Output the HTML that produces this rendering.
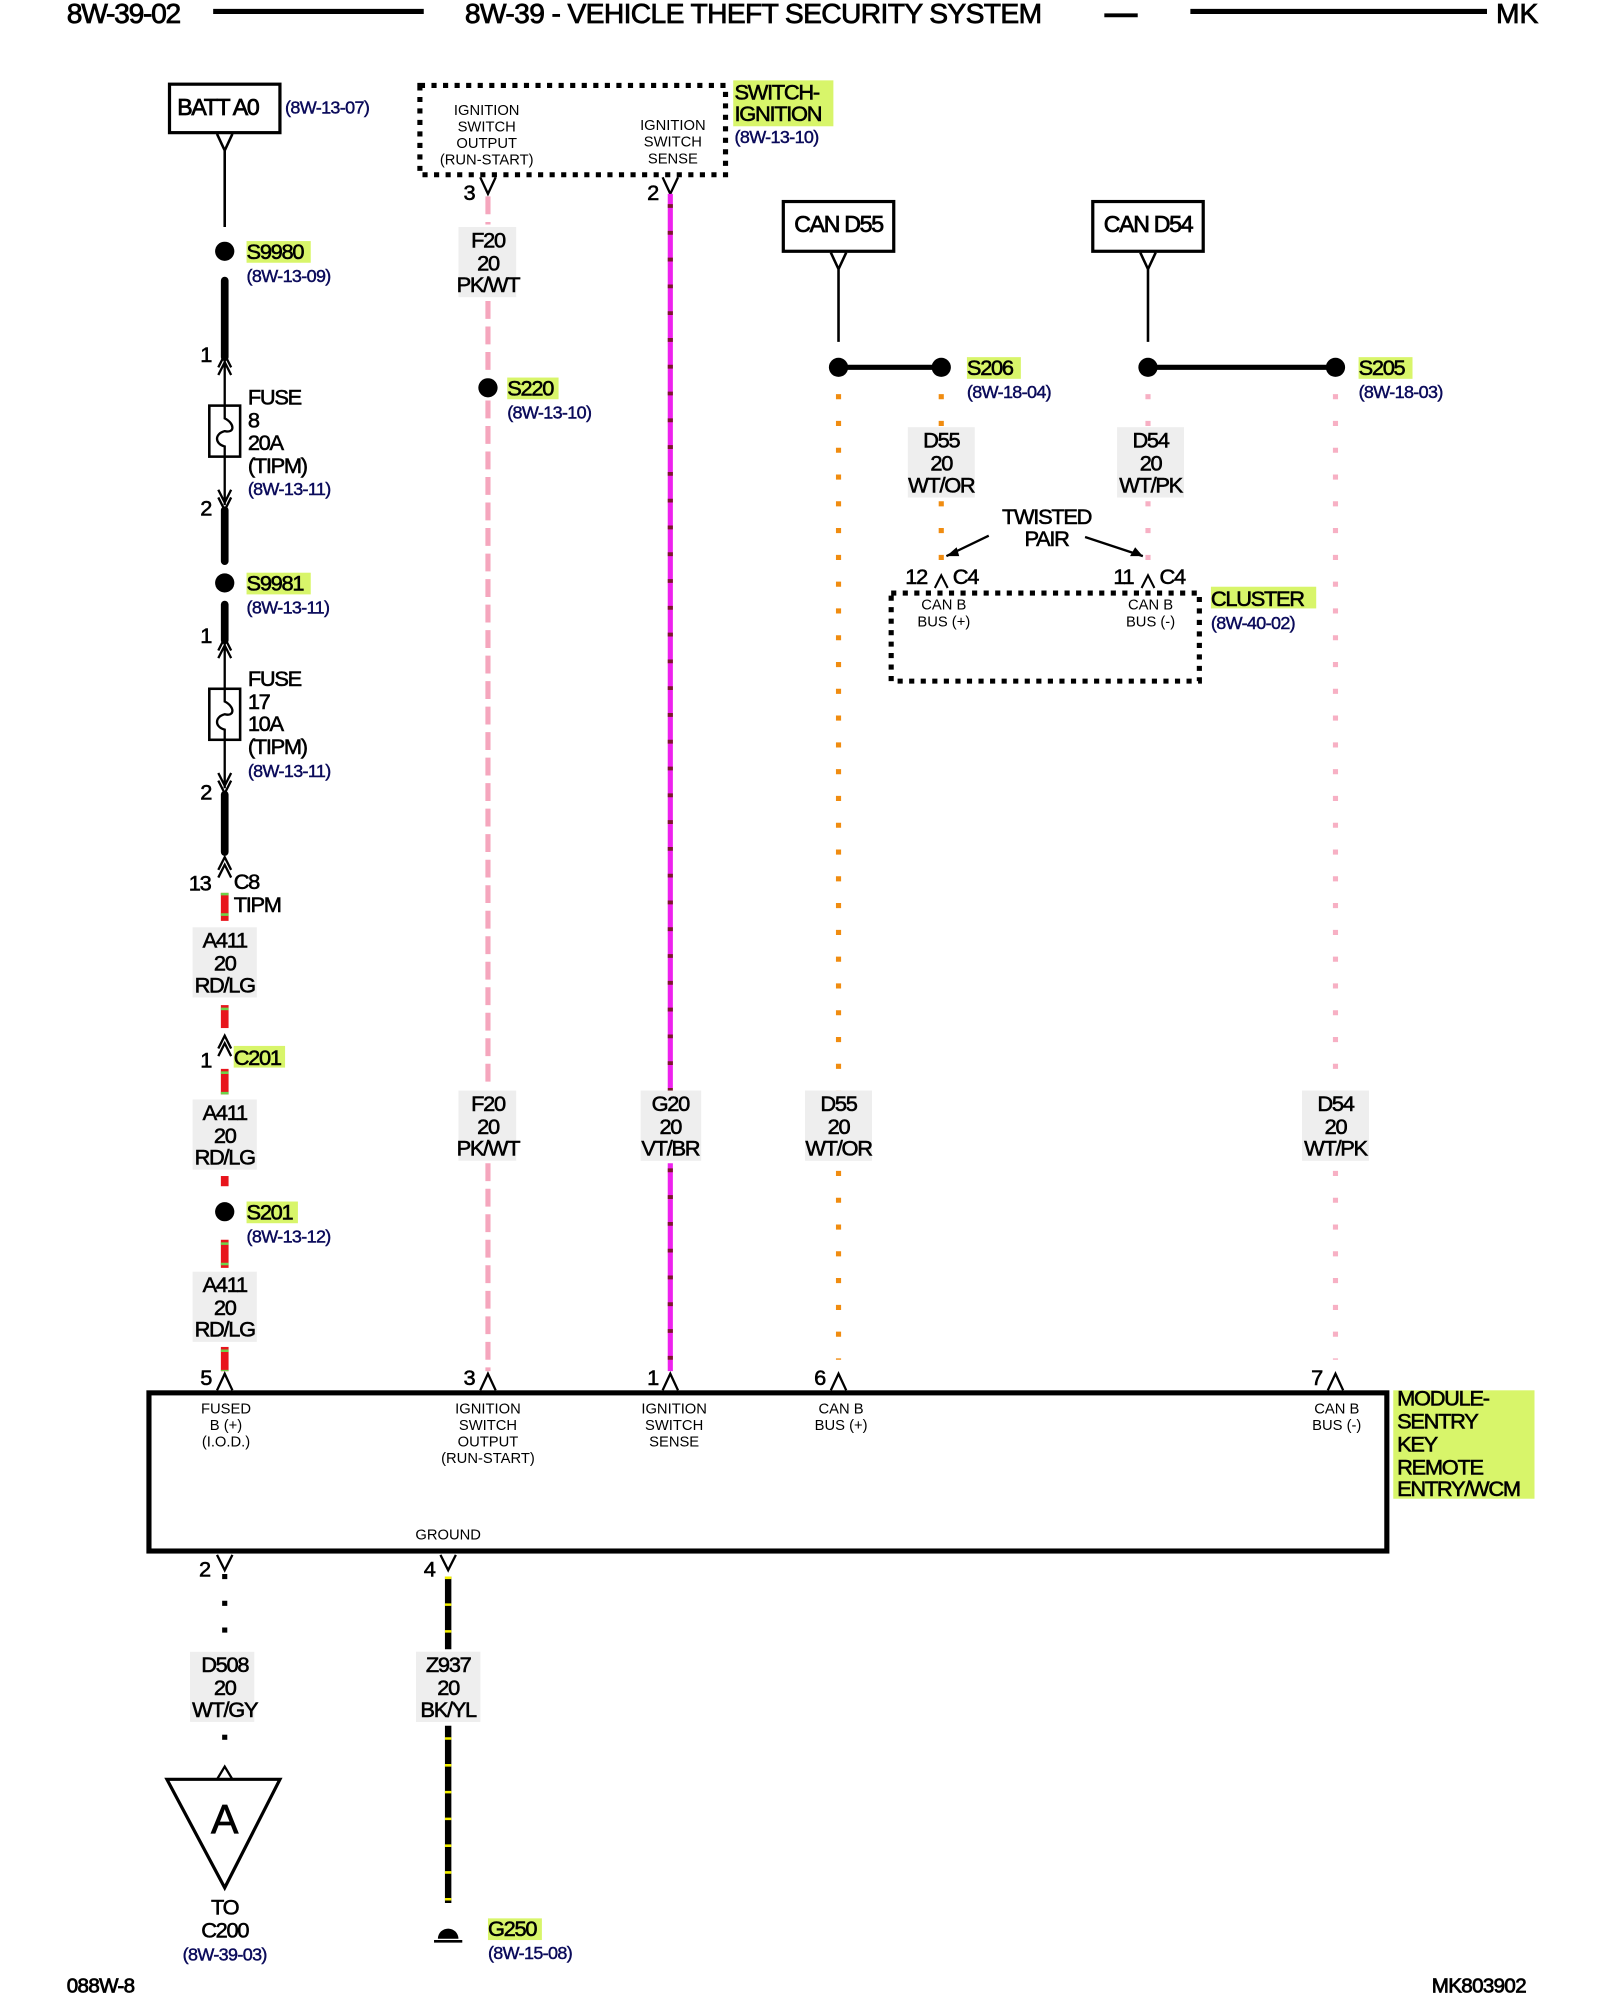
<!DOCTYPE html>
<html><head><meta charset="utf-8"><style>
html,body{margin:0;padding:0;background:#fff;width:1600px;height:2000px;overflow:hidden}
svg{display:block}
text{font-family:"Liberation Sans",Arial,sans-serif;fill:#000}
.l{font-size:17px;letter-spacing:-1px;stroke:#000;stroke-width:0.45}
.r{font-size:14px;fill:#0a0a5a;letter-spacing:-0.5px;stroke:#0a0a5a;stroke-width:0.35}
.s{font-size:11.5px;letter-spacing:0px}
.c{text-anchor:middle}
.h{stroke:#000;stroke-width:0.6}
</style></head><body>
<svg width="1600" height="2000" viewBox="0 0 1246 1568" preserveAspectRatio="none" xmlns="http://www.w3.org/2000/svg">
<rect width="1246" height="1568" fill="#fff"/>
<!-- header -->
<text x="52" y="18" class="h" style="font-size:22px;letter-spacing:-1px">8W-39-02</text>
<line x1="166" y1="9" x2="330" y2="9" stroke="#000" stroke-width="4"/>
<text x="362" y="18" class="h" style="font-size:22px;letter-spacing:-0.5px">8W-39 - VEHICLE THEFT SECURITY SYSTEM</text>
<line x1="860" y1="12" x2="886" y2="12" stroke="#000" stroke-width="3"/>
<line x1="927" y1="9" x2="1158" y2="9" stroke="#000" stroke-width="4"/>
<text x="1165" y="18" class="h" style="font-size:22px">MK</text>

<!-- highlight backgrounds -->
<g fill="#d8f56a">
<rect x="192" y="189" width="50" height="17"/>
<rect x="192" y="449" width="50" height="17"/>
<rect x="182" y="820" width="40" height="17"/>
<rect x="192" y="942" width="40" height="17"/>
<rect x="395" y="296" width="40" height="17"/>
<rect x="571" y="63" width="78" height="36"/>
<rect x="753" y="280" width="42" height="17"/>
<rect x="1058" y="280" width="42" height="17"/>
<rect x="943" y="460" width="82" height="17"/>
<rect x="1085" y="1090" width="110" height="85"/>
<rect x="380" y="1504" width="42" height="17"/>
</g>
<!-- wire label backgrounds -->
<g fill="#eeeeee">
<rect x="150" y="727" width="50" height="55"/><rect x="150" y="862" width="50" height="55"/><rect x="150" y="997" width="50" height="55"/>
<rect x="357" y="178" width="45" height="55"/><rect x="357" y="855" width="45" height="55"/>
<rect x="499" y="855" width="47" height="55"/><rect x="627" y="855" width="52" height="55"/>
<rect x="707" y="335" width="52" height="55"/><rect x="870" y="335" width="52" height="55"/>
<rect x="1014" y="855" width="52" height="55"/>
<rect x="148" y="1295" width="50" height="55"/><rect x="324" y="1295" width="50" height="55"/>
</g>

<!-- column 1 -->
<rect x="132" y="66" width="86" height="38" fill="none" stroke="#000" stroke-width="2.5"/>
<text x="138" y="90" class="h" style="font-size:18px;letter-spacing:-1px">BATT A0</text>
<text x="222" y="89" class="r">(8W-13-07)</text>
<path d="M169 105 L175 118 L181 105 M175 118 V178" fill="none" stroke="#000" stroke-width="2"/>
<circle cx="175" cy="197" r="7.5"/>
<text x="192" y="203" class="l">S9980</text><text x="192" y="221" class="r">(8W-13-09)</text>
<line x1="175" y1="220" x2="175" y2="280" stroke="#000" stroke-width="6" stroke-linecap="round"/>
<text x="156" y="284" class="l">1</text>
<path d="M170 288 L175 278 L180 288 M170 294 L175 284 L180 294 M175 282 V396 M170 384 L175 394 L180 384 M170 390 L175 400 L180 390" fill="none" stroke="#000" stroke-width="1.8"/>
<rect x="163" y="318" width="24" height="40" fill="#fff" stroke="#000" stroke-width="2"/>
<path d="M175 318 V328 C183 332 183 340 175 338 C167 340 167 348 175 350 V358" fill="none" stroke="#000" stroke-width="1.8"/>
<text x="193" y="317" class="l">FUSE</text><text x="193" y="335" class="l">8</text><text x="193" y="353" class="l">20A</text><text x="193" y="371" class="l">(TIPM)</text><text x="193" y="388" class="r">(8W-13-11)</text>
<text x="156" y="404" class="l">2</text>
<line x1="175" y1="400" x2="175" y2="440" stroke="#000" stroke-width="6" stroke-linecap="round"/>
<circle cx="175" cy="457" r="7.5"/>
<text x="192" y="463" class="l">S9981</text><text x="192" y="481" class="r">(8W-13-11)</text>
<line x1="175" y1="474" x2="175" y2="502" stroke="#000" stroke-width="6" stroke-linecap="round"/>
<text x="156" y="504" class="l">1</text>
<path d="M170 510 L175 500 L180 510 M170 516 L175 506 L180 516 M175 504 V618 M170 606 L175 616 L180 606 M170 612 L175 622 L180 612" fill="none" stroke="#000" stroke-width="1.8"/>
<rect x="163" y="540" width="24" height="40" fill="#fff" stroke="#000" stroke-width="2"/>
<path d="M175 540 V550 C183 554 183 562 175 560 C167 562 167 570 175 572 V580" fill="none" stroke="#000" stroke-width="1.8"/>
<text x="193" y="538" class="l">FUSE</text><text x="193" y="556" class="l">17</text><text x="193" y="573" class="l">10A</text><text x="193" y="591" class="l">(TIPM)</text><text x="193" y="609" class="r">(8W-13-11)</text>
<text x="156" y="627" class="l">2</text>
<line x1="175" y1="623" x2="175" y2="668" stroke="#000" stroke-width="6" stroke-linecap="round"/>
<path d="M170 682 L175 672 L180 682 M170 688 L175 678 L180 688" fill="none" stroke="#000" stroke-width="1.8"/>
<text x="147" y="698" class="l">13</text><text x="182" y="697" class="l">C8</text><text x="182" y="715" class="l">TIPM</text>
<!-- red/green wire -->
<g stroke-width="6">
<line x1="175" y1="700" x2="175" y2="722" stroke="#e8141c"/>
<line x1="175" y1="788" x2="175" y2="806" stroke="#e8141c"/>
<line x1="175" y1="838" x2="175" y2="858" stroke="#e8141c"/>
<line x1="175" y1="922" x2="175" y2="930" stroke="#e8141c"/>
<line x1="175" y1="972" x2="175" y2="994" stroke="#e8141c"/>
<line x1="175" y1="1056" x2="175" y2="1075" stroke="#e8141c"/>
</g>
<g stroke="#6cd24a" stroke-width="6" stroke-dasharray="2 14">
<line x1="175" y1="700" x2="175" y2="722"/><line x1="175" y1="790" x2="175" y2="806"/><line x1="175" y1="840" x2="175" y2="858"/><line x1="175" y1="974" x2="175" y2="994"/><line x1="175" y1="1058" x2="175" y2="1075"/>
</g>
<text x="175" y="743" class="l c">A411</text><text x="175" y="761" class="l c">20</text><text x="175" y="778" class="l c">RD/LG</text>
<path d="M170 822 L175 812 L180 822 M170 828 L175 818 L180 828" fill="none" stroke="#000" stroke-width="1.8"/>
<text x="156" y="837" class="l">1</text><text x="182" y="835" class="l">C201</text>
<text x="175" y="878" class="l c">A411</text><text x="175" y="896" class="l c">20</text><text x="175" y="913" class="l c">RD/LG</text>
<circle cx="175" cy="950" r="7.5"/>
<text x="192" y="956" class="l">S201</text><text x="192" y="974" class="r">(8W-13-12)</text>
<text x="175" y="1013" class="l c">A411</text><text x="175" y="1031" class="l c">20</text><text x="175" y="1048" class="l c">RD/LG</text>
<text x="156" y="1086" class="l">5</text>
<path d="M169 1090 L175 1077 L181 1090" fill="none" stroke="#000" stroke-width="1.8"/>

<!-- ignition switch -->
<rect x="327" y="67" width="238" height="70" fill="none" stroke="#000" stroke-width="4" stroke-dasharray="4 5"/>
<text x="379" y="90" class="s c">IGNITION</text><text x="379" y="103" class="s c">SWITCH</text><text x="379" y="116" class="s c">OUTPUT</text><text x="379" y="129" class="s c">(RUN-START)</text>
<text x="524" y="102" class="s c">IGNITION</text><text x="524" y="115" class="s c">SWITCH</text><text x="524" y="128" class="s c">SENSE</text>
<text x="572" y="78" class="l">SWITCH-</text><text x="572" y="95" class="l">IGNITION</text><text x="572" y="112" class="r">(8W-13-10)</text>
<text x="361" y="157" class="l">3</text><text x="504" y="157" class="l">2</text>
<path d="M374 139 L380 152 L386 139 M516 139 L522 152 L528 139" fill="none" stroke="#000" stroke-width="1.8"/>
<!-- pink dashed -->
<g stroke="#f5a6bd" stroke-width="4" stroke-dasharray="14 6">
<line x1="380" y1="154" x2="380" y2="176"/><line x1="380" y1="236" x2="380" y2="295"/><line x1="380" y1="314" x2="380" y2="853"/><line x1="380" y1="912" x2="380" y2="1075"/>
</g>
<text x="380" y="194" class="l c">F20</text><text x="380" y="212" class="l c">20</text><text x="380" y="229" class="l c">PK/WT</text>
<circle cx="380" cy="304" r="7.5"/>
<text x="395" y="310" class="l">S220</text><text x="395" y="328" class="r">(8W-13-10)</text>
<text x="380" y="871" class="l c">F20</text><text x="380" y="889" class="l c">20</text><text x="380" y="906" class="l c">PK/WT</text>
<!-- magenta -->
<line x1="522" y1="152" x2="522" y2="853" stroke="#ee22ee" stroke-width="4"/>
<line x1="522" y1="912" x2="522" y2="1075" stroke="#ee22ee" stroke-width="4"/>
<line x1="522" y1="160" x2="522" y2="1075" stroke="#7a1a2a" stroke-width="4" stroke-dasharray="3 18"/>
<rect x="499" y="855" width="47" height="55" fill="#eeeeee"/>
<text x="522" y="871" class="l c">G20</text><text x="522" y="889" class="l c">20</text><text x="522" y="906" class="l c">VT/BR</text>

<!-- CAN -->
<rect x="610" y="158" width="86" height="39" fill="none" stroke="#000" stroke-width="2.5"/>
<text x="653" y="182" class="c h" style="font-size:18px;letter-spacing:-1px">CAN D55</text>
<rect x="851" y="158" width="86" height="39" fill="none" stroke="#000" stroke-width="2.5"/>
<text x="894" y="182" class="c h" style="font-size:18px;letter-spacing:-1px">CAN D54</text>
<path d="M647 198 L653 211 L659 198 M653 211 V268 M888 198 L894 211 L900 198 M894 211 V268" fill="none" stroke="#000" stroke-width="2"/>
<line x1="653" y1="288" x2="733" y2="288" stroke="#000" stroke-width="4"/>
<line x1="894" y1="288" x2="1040" y2="288" stroke="#000" stroke-width="4"/>
<circle cx="653" cy="288" r="7.5"/><circle cx="733" cy="288" r="7.5"/><circle cx="894" cy="288" r="7.5"/><circle cx="1040" cy="288" r="7.5"/>
<text x="753" y="294" class="l">S206</text><text x="753" y="312" class="r">(8W-18-04)</text>
<text x="1058" y="294" class="l">S205</text><text x="1058" y="312" class="r">(8W-18-03)</text>
<g stroke-width="4" stroke-dasharray="4 17">
<line x1="653" y1="309" x2="653" y2="1066" stroke="#f08c10"/>
<line x1="733" y1="309" x2="733" y2="446" stroke="#f08c10"/>
<line x1="894" y1="309" x2="894" y2="446" stroke="#f7b0c4"/>
<line x1="1040" y1="309" x2="1040" y2="1066" stroke="#f7b0c4"/>
</g>
<rect x="707" y="335" width="52" height="55" fill="#eeeeee"/><rect x="870" y="335" width="52" height="55" fill="#eeeeee"/>
<rect x="627" y="855" width="52" height="55" fill="#eeeeee"/><rect x="1014" y="855" width="52" height="55" fill="#eeeeee"/>
<text x="733" y="351" class="l c">D55</text><text x="733" y="369" class="l c">20</text><text x="733" y="386" class="l c">WT/OR</text>
<text x="896" y="351" class="l c">D54</text><text x="896" y="369" class="l c">20</text><text x="896" y="386" class="l c">WT/PK</text>
<text x="815" y="411" class="l c">TWISTED</text><text x="815" y="428" class="l c">PAIR</text>
<path d="M770 420 L737 436 M845 421 L890 436" stroke="#000" stroke-width="1.8"/>
<path d="M737 436 L745 429 L747 436 Z M890 436 L880 436 L884 429 Z" fill="#000"/>
<text x="705" y="458" class="l">12</text><text x="742" y="458" class="l">C4</text>
<text x="867" y="458" class="l">11</text><text x="903" y="458" class="l">C4</text>
<path d="M728 461 L733 451 L738 461 M889 461 L894 451 L899 461" fill="none" stroke="#000" stroke-width="1.6"/>
<rect x="694" y="465" width="240" height="69" fill="none" stroke="#000" stroke-width="4" stroke-dasharray="4 5"/>
<text x="735" y="478" class="s c">CAN B</text><text x="735" y="491" class="s c">BUS (+)</text>
<text x="896" y="478" class="s c">CAN B</text><text x="896" y="491" class="s c">BUS (-)</text>
<text x="943" y="475" class="l">CLUSTER</text><text x="943" y="493" class="r">(8W-40-02)</text>
<text x="653" y="871" class="l c">D55</text><text x="653" y="889" class="l c">20</text><text x="653" y="906" class="l c">WT/OR</text>
<text x="1040" y="871" class="l c">D54</text><text x="1040" y="889" class="l c">20</text><text x="1040" y="906" class="l c">WT/PK</text>

<!-- module pins -->
<text x="361" y="1086" class="l">3</text><text x="504" y="1086" class="l">1</text><text x="634" y="1086" class="l">6</text><text x="1021" y="1086" class="l">7</text>
<path d="M374 1090 L380 1077 L386 1090 M516 1090 L522 1077 L528 1090 M647 1090 L653 1077 L659 1090 M1034 1090 L1040 1077 L1046 1090" fill="none" stroke="#000" stroke-width="1.8"/>
<rect x="116" y="1092" width="964" height="124" fill="none" stroke="#000" stroke-width="4"/>
<text x="176" y="1108" class="s c">FUSED</text><text x="176" y="1121" class="s c">B (+)</text><text x="176" y="1134" class="s c">(I.O.D.)</text>
<text x="380" y="1108" class="s c">IGNITION</text><text x="380" y="1121" class="s c">SWITCH</text><text x="380" y="1134" class="s c">OUTPUT</text><text x="380" y="1147" class="s c">(RUN-START)</text>
<text x="525" y="1108" class="s c">IGNITION</text><text x="525" y="1121" class="s c">SWITCH</text><text x="525" y="1134" class="s c">SENSE</text>
<text x="655" y="1108" class="s c">CAN B</text><text x="655" y="1121" class="s c">BUS (+)</text>
<text x="1041" y="1108" class="s c">CAN B</text><text x="1041" y="1121" class="s c">BUS (-)</text>
<text x="349" y="1207" class="s c">GROUND</text>
<text x="1088" y="1102" class="l">MODULE-</text><text x="1088" y="1120" class="l">SENTRY</text><text x="1088" y="1138" class="l">KEY</text><text x="1088" y="1156" class="l">REMOTE</text><text x="1088" y="1173" class="l">ENTRY/WCM</text>

<!-- bottom -->
<text x="155" y="1236" class="l">2</text><text x="330" y="1236" class="l">4</text>
<path d="M169 1219 L175 1231 L181 1219 M343 1219 L349 1231 L355 1219" fill="none" stroke="#000" stroke-width="1.8"/>
<line x1="175" y1="1234" x2="175" y2="1295" stroke="#000" stroke-width="4" stroke-dasharray="4 17"/>
<line x1="175" y1="1360" x2="175" y2="1380" stroke="#000" stroke-width="4" stroke-dasharray="4 17"/>
<text x="175" y="1311" class="l c">D508</text><text x="175" y="1329" class="l c">20</text><text x="175" y="1346" class="l c">WT/GY</text>
<path d="M169 1395 L175 1385 L181 1395" fill="none" stroke="#000" stroke-width="1.8"/>
<path d="M130 1395 L218 1395 L175 1480 Z" fill="none" stroke="#000" stroke-width="2.5"/>
<text x="175" y="1437" class="c h" style="font-size:32px">A</text>
<text x="175" y="1501" class="l c">TO</text><text x="175" y="1519" class="l c">C200</text><text x="175" y="1537" class="r c">(8W-39-03)</text>
<line x1="349" y1="1236" x2="349" y2="1293" stroke="#000" stroke-width="5"/>
<line x1="349" y1="1353" x2="349" y2="1492" stroke="#000" stroke-width="5"/>
<line x1="349" y1="1236" x2="349" y2="1492" stroke="#f4f000" stroke-width="5" stroke-dasharray="2 19"/>
<rect x="324" y="1295" width="50" height="55" fill="#eeeeee"/>
<text x="349" y="1311" class="l c">Z937</text><text x="349" y="1329" class="l c">20</text><text x="349" y="1346" class="l c">BK/YL</text>
<path d="M341 1520 A8 8 0 0 1 357 1520 Z" fill="#000"/>
<line x1="338" y1="1522" x2="360" y2="1522" stroke="#000" stroke-width="2"/>
<text x="380" y="1518" class="l">G250</text><text x="380" y="1536" class="r">(8W-15-08)</text>

<text x="52" y="1562" class="h" style="font-size:16px;letter-spacing:-0.5px">088W-8</text>
<text x="1115" y="1562" class="h" style="font-size:16px;letter-spacing:-0.5px">MK803902</text>
</svg>
</body></html>
